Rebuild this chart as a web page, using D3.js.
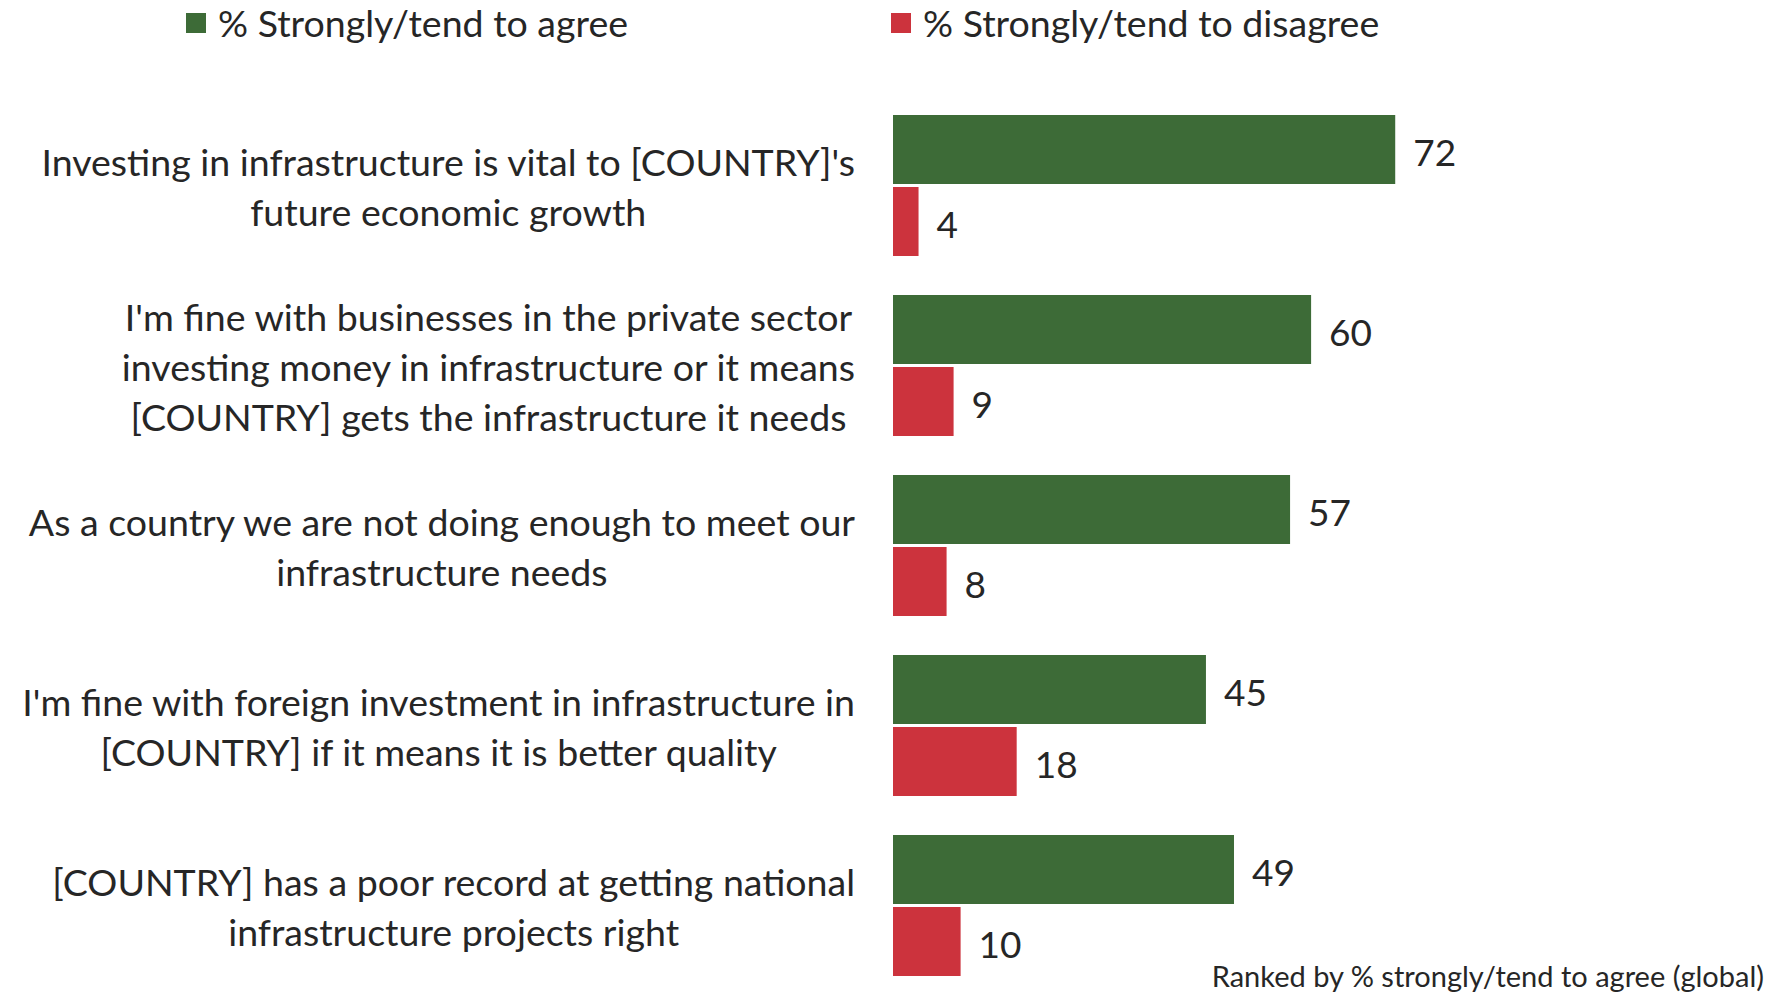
<!DOCTYPE html>
<html>
<head>
<meta charset="utf-8">
<script src="https://cdn.jsdelivr.net/npm/d3@7"></script>
<style>
  html, body { margin: 0; padding: 0; background: #fff; }
  svg { display: block; }
  text { font-family: Lato, "Open Sans", sans-serif; fill: #262626; }
</style>
</head>
<body>
<svg id="chart" width="1787" height="993"></svg>
<script>
// ---- data ----
const categories = [
  "Investing in infrastructure is vital to [COUNTRY]'s\nfuture economic growth",
  "I'm fine with businesses in the private sector\ninvesting money in infrastructure or it means\n[COUNTRY] gets the infrastructure it needs",
  "As a country we are not doing enough to meet our\ninfrastructure needs",
  "I'm fine with foreign investment in infrastructure in\n[COUNTRY] if it means it is better quality",
  "[COUNTRY] has a poor record at getting national\ninfrastructure projects right"
];
const seriesNames = ["% Strongly/tend to agree", "% Strongly/tend to disagree"];
const agree = [72, 60, 57, 45, 49];
const disagree = [4, 9, 8, 18, 10];
const colors = ["#3d6b37", "#cc333d"];
const footnote = "Ranked by % strongly/tend to agree (global)";

const svg = d3.select("#chart");

const x = d3.scaleLinear().domain([0, 100]).range([890.5, 1591.5]);
const y = d3.scaleBand().domain(categories).range([95.5, 995.5])
  .paddingInner(39 / 180).paddingOuter(39 / 360);
const ySub = d3.scaleBand().domain(seriesNames).range([0, y.bandwidth()])
  .paddingInner(3 / 72).paddingOuter(0);

const rows = categories.map((c, i) => ({
  cat: c,
  vals: [
    { s: seriesNames[0], v: agree[i], color: colors[0] },
    { s: seriesNames[1], v: disagree[i], color: colors[1] }
  ]
}));

const g = svg.selectAll("g.group").data(rows).join("g")
  .attr("class", "group")
  .attr("transform", d => `translate(0,${y(d.cat)})`);

const inset = 2.5;
g.selectAll("rect").data(d => d.vals).join("rect")
  .attr("x", x(0) + inset)
  .attr("y", d => ySub(d.s))
  .attr("width", d => x(d.v) - x(0) - inset)
  .attr("height", ySub.bandwidth())
  .attr("fill", d => d.color);

g.selectAll("text.val").data(d => d.vals).join("text")
  .attr("class", "val")
  .attr("x", d => x(d.v) + 18)
  .attr("y", d => ySub(d.s) + ySub.bandwidth() / 2 + 3.5)
  .attr("dy", "0.35em")
  .style("font-size", "37px")
  .text(d => d.v);

// category labels: block right-aligned at 855, lines centered in block
const labelRight = 855;
const lineH = 50;
rows.forEach(r => {
  const lines = r.cat.split("\n");
  const cy = y(r.cat) + y.bandwidth() / 2 + 2.5;
  const t = svg.append("text")
    .attr("text-anchor", "middle")
    .style("font-size", "37.5px");
  const spans = lines.map((ln, i) => t.append("tspan")
    .attr("y", cy + (i - (lines.length - 1) / 2) * lineH)
    .attr("dy", "0.35em")
    .text(ln));
  const w = d3.max(spans, s => s.node().getComputedTextLength());
  spans.forEach(s => s.attr("x", labelRight - w / 2));
});

// legend
const legendX = [186, 891];
seriesNames.forEach((s, i) => {
  svg.append("rect").attr("x", legendX[i]).attr("y", 13)
    .attr("width", 20).attr("height", 20).attr("fill", colors[i]);
  svg.append("text").attr("x", legendX[i] + 32).attr("y", 24)
    .attr("dy", "0.35em").style("font-size", "37.5px").text(s);
});

// footnote
svg.append("text").attr("x", 1764).attr("y", 977)
  .attr("dy", "0.35em").attr("text-anchor", "end")
  .style("font-size", "29px").text(footnote);
</script>
</body>
</html>
